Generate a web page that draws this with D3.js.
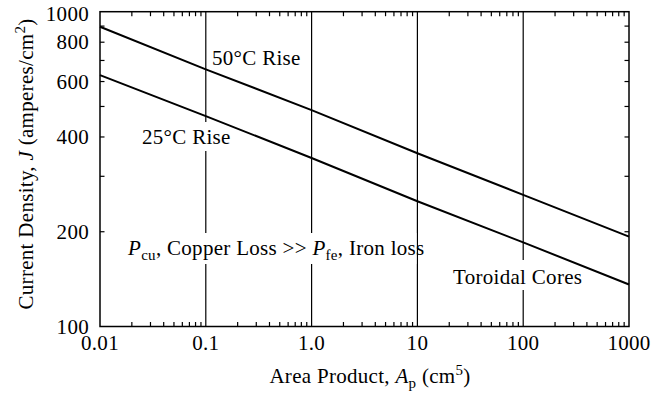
<!DOCTYPE html>
<html><head><meta charset="utf-8">
<script src="https://cdn.jsdelivr.net/npm/d3@7"></script>
<style>html,body{margin:0;padding:0;background:#fff;}svg{display:block;font-family:"Liberation Serif","Times New Roman",serif;letter-spacing:0.3px;}</style>
</head><body>
<svg id="c" width="652" height="397"></svg>
<script>
const apValues = [0.01, 0.1, 1, 10, 100, 1000];
const rise50 = [896, 656, 487, 355, 262, 193];
const rise25 = [629, 466, 343, 250, 185, 136];
const xTickValues = [0.01, 0.1, 1, 10, 100, 1000];
const xTickLabels = ["0.01", "0.1", "1.0", "10", "100", "1000"];
const yTickValues = [100, 200, 400, 600, 800, 1000];
const yTickLabels = ["100", "200", "400", "600", "800", "1000"];
const gridValues = [0.1, 1, 10, 100];

const svg = d3.select("#c");
const L = 100, R = 629, T = 11.7, B = 326.5;
const x = d3.scaleLog().domain([0.01, 1000]).range([L, R]);
const y = d3.scaleLog().domain([100, 1000]).range([B, T]);
const FS = 21;
const SS = 15;

// grid lines at decades
svg.selectAll("line.grid").data(gridValues).enter().append("line")
  .attr("x1", d => x(d)).attr("x2", d => x(d)).attr("y1", T).attr("y2", B)
  .attr("stroke", "#000").attr("stroke-width", 1.2);

// minor ticks
const xMinor = x.ticks().filter(v => !xTickValues.some(t => Math.abs(t - v) / t < 1e-6));
svg.selectAll("line.xb").data(xMinor).enter().append("line")
  .attr("x1", d => x(d)).attr("x2", d => x(d)).attr("y1", B).attr("y2", B - 4.5)
  .attr("stroke", "#000").attr("stroke-width", 1.2);
svg.selectAll("line.xt").data(xMinor).enter().append("line")
  .attr("x1", d => x(d)).attr("x2", d => x(d)).attr("y1", T).attr("y2", T + 4.5)
  .attr("stroke", "#000").attr("stroke-width", 1.2);
const yMinor = y.ticks().filter(v => v > 100 && v < 1000);
svg.selectAll("line.yl").data(yMinor).enter().append("line")
  .attr("x1", L).attr("x2", L + 4.5).attr("y1", d => y(d)).attr("y2", d => y(d))
  .attr("stroke", "#000").attr("stroke-width", 1.2);
svg.selectAll("line.yr").data(yMinor).enter().append("line")
  .attr("x1", R).attr("x2", R - 4.5).attr("y1", d => y(d)).attr("y2", d => y(d))
  .attr("stroke", "#000").attr("stroke-width", 1.2);

// annotation text with white background
function label(xp, yp, build, bgTop, bgBottom, bgMaxX) {
  const g = svg.append("g");
  const bg = g.append("rect").attr("fill", "#fff");
  const t = g.append("text").attr("x", xp).attr("y", yp).attr("font-size", FS).attr("fill", "#000");
  build(t);
  const bb = t.node().getBBox();
  let x2 = bb.x + bb.width + 2;
  if (bgMaxX) x2 = Math.min(x2, bgMaxX);
  bg.attr("x", bb.x - 2).attr("y", yp - bgTop).attr("width", x2 - bb.x + 2).attr("height", bgTop + bgBottom);
}
label(212, 65, t => t.text("50°C Rise"), 22, 8);
label(142, 144, t => t.text("25°C Rise"), 22, 7);
label(128, 255, t => {
  t.append("tspan").attr("font-style", "italic").text("P");
  t.append("tspan").attr("font-size", SS).attr("dy", 5).text("cu");
  t.append("tspan").attr("dy", -5).text(", Copper Loss >> ");
  t.append("tspan").attr("font-style", "italic").text("P");
  t.append("tspan").attr("font-size", SS).attr("dy", 5).text("fe");
  t.append("tspan").attr("dy", -5).text(", Iron loss");
}, 22, 9, x(10) - 1);
label(453, 284, t => t.text("Toroidal Cores"), 24, 6);

// data lines
const line = d3.line().x((d, i) => x(apValues[i])).y(d => y(d));
[rise50, rise25].forEach(s => {
  svg.append("path").datum(s).attr("d", line).attr("fill", "none")
    .attr("stroke", "#000").attr("stroke-width", 2);
});

// frame
svg.append("rect").attr("x", L).attr("y", T).attr("width", R - L).attr("height", B - T)
  .attr("fill", "none").attr("stroke", "#000").attr("stroke-width", 1.5);

// tick labels
svg.selectAll("text.xl").data(xTickValues).enter().append("text")
  .attr("x", d => x(d)).attr("y", 350).attr("text-anchor", "middle")
  .attr("font-size", FS).text((d, i) => xTickLabels[i]);
svg.selectAll("text.yl").data(yTickValues).enter().append("text")
  .attr("x", 89).attr("y", d => y(d) + 7 + (d === 1000 ? 2.5 : 0)).attr("text-anchor", "end")
  .attr("font-size", FS).text((d, i) => yTickLabels[i]);

// axis titles
const xt = svg.append("text").attr("x", 370).attr("y", 383).attr("text-anchor", "middle").attr("font-size", FS);
xt.append("tspan").text("Area Product, ");
xt.append("tspan").attr("font-style", "italic").text("A");
xt.append("tspan").attr("font-size", SS).attr("dy", 5).text("p");
xt.append("tspan").attr("dy", -5).text(" (cm");
xt.append("tspan").attr("font-size", SS).attr("dy", -8).text("5");
xt.append("tspan").attr("dy", 8).text(")");

const yt = svg.append("text").attr("transform", "translate(33,164) rotate(-90)")
  .attr("text-anchor", "middle").attr("font-size", FS);
yt.append("tspan").text("Current Density, ");
yt.append("tspan").attr("font-style", "italic").text("J");
yt.append("tspan").text(" (amperes/cm");
yt.append("tspan").attr("font-size", SS).attr("dy", -8).text("2");
yt.append("tspan").attr("dy", 8).text(")");
</script>
</body></html>
